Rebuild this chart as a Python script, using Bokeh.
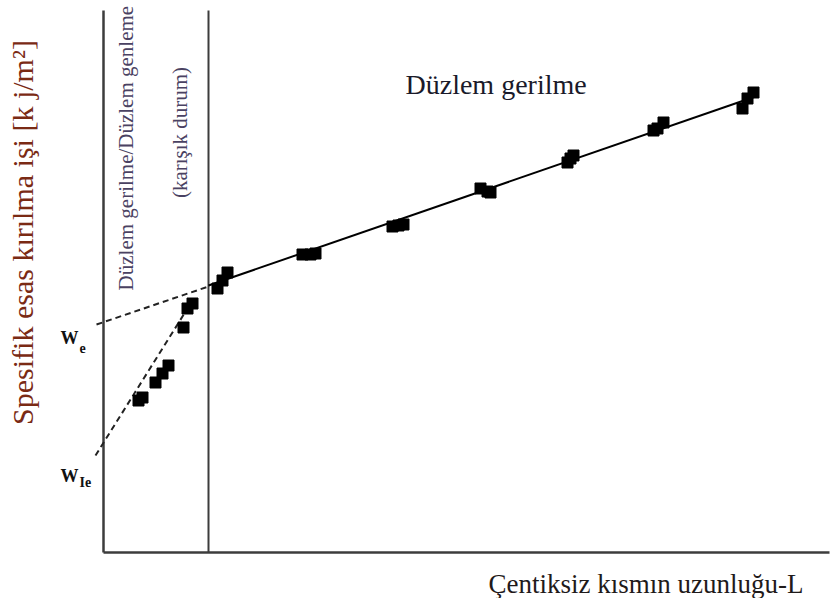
import math
from bokeh.plotting import figure
from bokeh.models import Range1d
from bokeh.core.properties import value
from bokeh.embed import file_html
from bokeh.resources import INLINE

# ---- data (arbitrary units: L along x, specific work of fracture along y) ----
mixed_L = [35, 39, 52, 59, 65, 80, 84, 89]
mixed_w = [152, 155, 170, 179, 187, 225, 244, 249]

stress_L = [114, 119, 124, 199, 207, 212, 289, 295, 300, 377, 384, 387,
            464, 467, 470, 550, 554, 560, 639, 644, 650]
stress_w = [264, 272, 280, 298, 298, 299, 326, 327, 328, 364, 361, 360,
            390, 394, 397, 422, 424, 430, 444, 454, 460]

fit_L = [105, 652]
fit_w = [267, 456]

we_L = [-7, 105]
we_w = [228, 266]

wie_L = [-8, 89]
wie_w = [97, 252]

L_transition = 105
x_axis_end = 726
y_axis_end = 542

SERIF = value("Liberation Serif")

p = figure(width=831, height=598, x_range=Range1d(-103, 728), y_range=Range1d(-46, 552),
           output_backend="svg", toolbar_location=None, min_border=0)
p.axis.visible = False
p.grid.visible = False
p.outline_line_color = None
p.background_fill_color = "white"
p.border_fill_color = "white"

axis_color = "#3c3c3c"
# axes and transition line
p.line([0, 0], [0, y_axis_end], line_color=axis_color, line_width=2.5)
p.line([0, x_axis_end], [0, 0], line_color=axis_color, line_width=2.5)
p.line([L_transition, L_transition], [0, y_axis_end], line_color=axis_color, line_width=2)

# fits
p.line(fit_L, fit_w, line_color="black", line_width=2)
p.line(we_L, we_w, line_color="#222222", line_width=2, line_dash="6 4")
p.line(wie_L, wie_w, line_color="#222222", line_width=2, line_dash="6 4")

# data points
p.scatter(mixed_L, mixed_w, marker="square", size=11, color="black")
p.scatter(stress_L, stress_w, marker="square", size=11, color="black")

# texts
p.text(x=[-81], y=[320], text=["Spesifik esas kırılma işi [k j/m²]"], angle=math.pi / 2,
       text_align="center", text_baseline="middle", text_font=SERIF,
       text_font_size="30px", text_color="#7a2a14")
p.text(x=[22], y=[407], text=["Düzlem gerilme/Düzlem  genleme"], angle=math.pi / 2,
       text_align="center", text_baseline="middle", text_font=SERIF,
       text_font_size="21px", text_color="#4a4262")
p.text(x=[76], y=[420], text=["(karışık durum)"], angle=math.pi / 2,
       text_align="center", text_baseline="middle", text_font=SERIF,
       text_font_size="21px", text_color="#4a4262")
p.text(x=[302], y=[468], text=["Düzlem gerilme"], text_align="left",
       text_baseline="alphabetic", text_font=SERIF, text_font_size="28px",
       text_color="#1a1a2a")
p.text(x=[385], y=[-31], text=["Çentiksiz kısmın uzunluğu-L"], text_align="left",
       text_baseline="alphabetic", text_font=SERIF, text_font_size="27px",
       text_color="#1f1a1a")

# W_e and W_Ie labels
p.text(x=[-43], y=[215], text=["W"], text_font=SERIF, text_font_style="bold",
       text_font_size="18px", text_baseline="alphabetic", text_color="#111111")
p.text(x=[-24], y=[205], text=["e"], text_font=SERIF, text_font_style="bold",
       text_font_size="14px", text_baseline="alphabetic", text_color="#111111")
p.text(x=[-43], y=[77], text=["W"], text_font=SERIF, text_font_style="bold",
       text_font_size="18px", text_baseline="alphabetic", text_color="#111111")
p.text(x=[-24], y=[70], text=["Ie"], text_font=SERIF, text_font_style="bold",
       text_font_size="14px", text_baseline="alphabetic", text_color="#111111")

open("out.html", "w").write(file_html(p, INLINE))
